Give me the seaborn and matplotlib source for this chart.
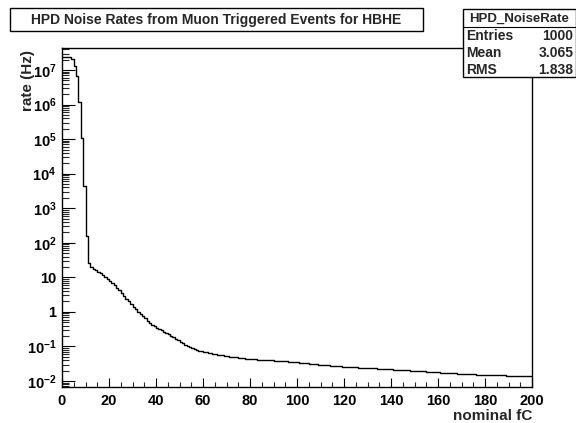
import numpy as np
import pandas as pd
import matplotlib
matplotlib.use('Agg')
import matplotlib.pyplot as plt
import seaborn as sns
from matplotlib.ticker import FixedLocator, MultipleLocator, FuncFormatter, NullFormatter
from matplotlib.patches import Rectangle

# данные гистограммы (1 fC на бин, 0..200)
n_bins = 200
x_range = (0, 200)
rate_hz = [
    2.45e7, 2.45e7, 2.4e7, 2.35e7, 2.1e7, 1.3e7, 6.7e6, 1.2e6, 1.05e5, 4.5e3,
    156, 26, 20, 18, 16, 14.5, 13, 11.5, 10, 8.8,
    7.7, 6.8, 5.9, 5.0, 4.2, 3.5, 2.9, 2.4, 2.0, 1.65,
    1.4, 1.2, 1.02, 0.88, 0.76, 0.65, 0.56, 0.47, 0.42, 0.38,
    0.345, 0.315, 0.29, 0.265, 0.245, 0.225, 0.205, 0.185, 0.165, 0.15,
    0.135, 0.122, 0.112, 0.104, 0.097, 0.091, 0.085, 0.080, 0.076, 0.073,
    0.070, 0.067, 0.065, 0.063, 0.061, 0.059, 0.058, 0.056, 0.055, 0.054,
    0.052, 0.051, 0.050, 0.049, 0.048, 0.047, 0.046, 0.045, 0.044, 0.0435,
    0.043, 0.0426, 0.0422, 0.0418, 0.0414, 0.041, 0.0406, 0.0402, 0.0398, 0.0394,
    0.039, 0.0387, 0.0384, 0.0381, 0.0378, 0.037, 0.0365, 0.036, 0.0355, 0.035,
    0.0345, 0.034, 0.0335, 0.033, 0.0325, 0.032, 0.0315, 0.031, 0.0305, 0.030,
    0.0296, 0.0292, 0.0288, 0.0284, 0.028, 0.0276, 0.0272, 0.0268, 0.0264, 0.026,
    0.0256, 0.0254, 0.0252, 0.025, 0.0248, 0.0246, 0.0244, 0.0242, 0.024, 0.0238,
    0.0236, 0.0234, 0.0232, 0.023, 0.0228, 0.0226, 0.0224, 0.0222, 0.022, 0.0218,
    0.0216, 0.0215, 0.0213, 0.0211, 0.0209, 0.0207, 0.0205, 0.0203, 0.0201, 0.0199,
    0.0197, 0.0195, 0.0193, 0.0191, 0.0189, 0.0187, 0.0185, 0.0183, 0.0181, 0.0179,
    0.0177, 0.0175, 0.0173, 0.0171, 0.017, 0.0168, 0.0167, 0.0166, 0.0164, 0.0163,
    0.0162, 0.016, 0.0159, 0.0158, 0.0157, 0.0156, 0.0154, 0.0153, 0.0152, 0.0151,
    0.0151, 0.015, 0.0149, 0.0148, 0.0148, 0.0147, 0.0146, 0.0145, 0.0145, 0.0144,
    0.0143, 0.0142, 0.0142, 0.0141, 0.014, 0.0139, 0.0139, 0.0138, 0.0137, 0.0136,
]
bin_centers = np.arange(n_bins) + 0.5

# степени десяти для меток по оси Y
y_exponents = [-2, -1, 0, 1, 2, 3, 4, 5, 6, 7]

title = "HPD Noise Rates from Muon Triggered Events for HBHE"
stats_name = "HPD_NoiseRate"
stats_labels = ["Entries", "Mean", "RMS"]
stats_values = ["1000", "3.065", "1.838"]

df = pd.DataFrame({"fC": bin_centers, "rate": rate_hz})

sns.set_style("white")
plt.rcParams['font.family'] = ['Liberation Sans', 'DejaVu Sans']
plt.rcParams['font.weight'] = 'bold'
plt.rcParams['mathtext.fontset'] = 'custom'
plt.rcParams['mathtext.rm'] = 'Liberation Sans:bold'
plt.rcParams['mathtext.it'] = 'Liberation Sans:bold'
plt.rcParams['mathtext.bf'] = 'Liberation Sans:bold'

W, H = 576, 423
fig = plt.figure(figsize=(W / 100, H / 100), dpi=100)
fig.patch.set_facecolor('white')
ax = fig.add_axes([62 / W, 1 - 387 / H, (532 - 62) / W, (387 - 48) / H])

# гистограмма
sns.histplot(data=df, x="fC", weights="rate", bins=n_bins, binrange=x_range,
             element='step', fill=False, color='black', linewidth=1.0, ax=ax)
ax.set_yscale('log')
y_lo, y_hi = 10 ** -2.174, 10 ** 7.637
ax.set_xlim(*x_range)
ax.set_ylim(y_lo, y_hi)

for s in ax.spines.values():
    s.set_color('black')
    s.set_linewidth(1.0)

# оси в стиле ROOT
ax.xaxis.set_major_locator(MultipleLocator(20))
ax.xaxis.set_minor_locator(MultipleLocator(5))
y_major = [10.0 ** e for e in y_exponents]
y_minor = [m * 10.0 ** e for e in range(-3, 8) for m in range(2, 10)
           if y_lo <= m * 10.0 ** e <= y_hi]
ax.yaxis.set_major_locator(FixedLocator(y_major))
ax.yaxis.set_minor_locator(FixedLocator(y_minor))
ax.yaxis.set_minor_formatter(NullFormatter())


def log_label(v, pos):
    e = int(round(np.log10(v)))
    if e == 0:
        return "1"
    if e == 1:
        return "10"
    return r"$10^{%d}$" % e


ax.yaxis.set_major_formatter(FuncFormatter(log_label))
ax.tick_params(axis='x', which='major', direction='in', length=6.8, width=0.8,
               bottom=True, top=False, labelsize=10.5, pad=5, colors='black')
ax.tick_params(axis='x', which='minor', direction='in', length=3.4, width=0.8,
               bottom=True, top=False)
ax.tick_params(axis='y', which='major', direction='in', length=9.4, width=0.8,
               left=True, right=False, labelsize=10.5, pad=4, colors='black')
ax.tick_params(axis='y', which='minor', direction='in', length=4.7, width=0.8,
               left=True, right=False)

ax.set_xlabel("")
ax.set_ylabel("")


def fx(px):
    return px / W


def fy(py):
    return 1 - py / H


# подписи осей
fig.text(fx(532), fy(420), "nominal fC", ha='right', va='baseline',
         fontsize=11, fontweight='bold')
fig.text(fx(32), fy(50), "rate (Hz)", ha='right', va='baseline', rotation=90,
         rotation_mode='anchor', fontsize=11, fontweight='bold')

# рамка заголовка
fig.add_artist(Rectangle((fx(9.5), fy(31.5)), fx(422.5) - fx(9.5), fy(8.5) - fy(31.5),
                         transform=fig.transFigure, facecolor='white',
                         edgecolor='black', linewidth=1.0))
fig.text(fx(216), fy(20), title, ha='center', va='center', fontsize=10,
         fontweight='bold')

# статистика
fig.add_artist(Rectangle((fx(463), fy(77)), fx(575.5) - fx(463), fy(9) - fy(77),
                         transform=fig.transFigure, facecolor='white',
                         edgecolor='black', linewidth=1.0, zorder=3))
fig.add_artist(plt.Line2D([fx(463), fx(575.5)], [fy(27.5), fy(27.5)],
                          transform=fig.transFigure, color='black', linewidth=0.8, zorder=4))
fig.text(fx(519), fy(18.5), stats_name, ha='center', va='center', fontsize=9.5,
         fontweight='bold', zorder=5)
for i, (lab, val) in enumerate(zip(stats_labels, stats_values)):
    yy = fy(36 + i * 16.8)
    fig.text(fx(466), yy, lab, ha='left', va='center', fontsize=10, fontweight='bold', zorder=5)
    fig.text(fx(573.5), yy, val, ha='right', va='center', fontsize=10, fontweight='bold', zorder=5)

fig.savefig("out.png", dpi=100, facecolor='white')
